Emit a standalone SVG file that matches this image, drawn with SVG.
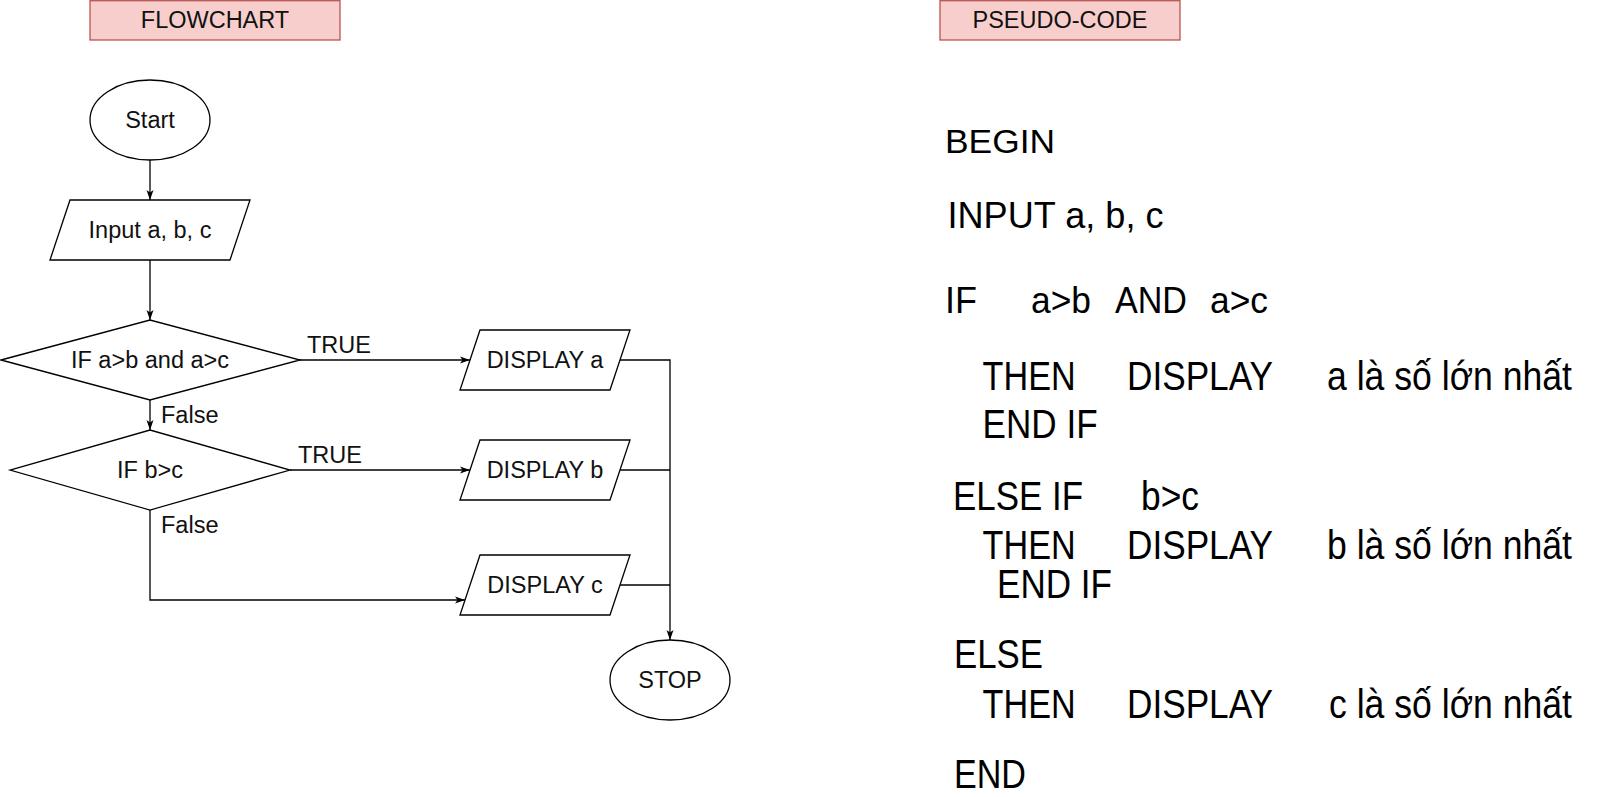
<svg xmlns="http://www.w3.org/2000/svg" width="1610" height="797" viewBox="0 0 1610 797">
<style>
.s{fill:#fff;stroke:#000;stroke-width:1.3}
.h{fill:#f8cecc;stroke:#b85450;stroke-width:1.3}
.t{font-family:"Liberation Sans",Arial,sans-serif;font-size:23.5px;fill:#111}
.c{text-anchor:middle}
.p{font-family:"Liberation Sans",Arial,sans-serif;fill:#000}
.p40{font-size:40px}
.e{fill:none;stroke:#000;stroke-width:1.3}
</style>
<defs>
<marker id="ar" markerUnits="userSpaceOnUse" markerWidth="10" markerHeight="8" refX="10" refY="4" orient="auto">
<path d="M0,0.5 L10,4 L0,7.5 L2.5,4 Z" fill="#000"/>
</marker>
</defs>
<rect width="1610" height="797" fill="#fff"/>

<g id="hdr-flowchart">
<rect class="h" x="90" y="0.7" width="250" height="39.3"/>
<text class="t c" x="215" y="28.4">FLOWCHART</text>
</g>
<g id="hdr-pseudo">
<rect class="h" x="940" y="0.7" width="240" height="39.3"/>
<text class="t c" x="1060" y="28.4">PSEUDO-CODE</text>
</g>

<g id="connectors">
<path class="e" d="M150,160 V200" marker-end="url(#ar)"/>
<path class="e" d="M150,260 V320" marker-end="url(#ar)"/>
<path class="e" d="M150,400 V430" marker-end="url(#ar)"/>
<path class="e" d="M300,360 H470" marker-end="url(#ar)"/>
<path class="e" d="M290,470 H470" marker-end="url(#ar)"/>
<path class="e" d="M150,510 V600 H465" marker-end="url(#ar)"/>
<path class="e" d="M620,360 H670 V640" marker-end="url(#ar)"/>
<path class="e" d="M620,470 H670"/>
<path class="e" d="M620,585 H670"/>
<text class="t" x="307" y="353">TRUE</text>
<text class="t" x="298" y="463">TRUE</text>
<text class="t" x="161" y="423">False</text>
<text class="t" x="161" y="533">False</text>
</g>

<g id="start">
<ellipse class="s" cx="150" cy="120" rx="60" ry="40"/>
<text class="t c" x="150" y="128.4">Start</text>
</g>
<g id="input">
<polygon class="s" points="70,200 250,200 230,260 50,260"/>
<text class="t c" x="150" y="238.4">Input a, b, c</text>
</g>
<g id="if1">
<polygon class="s" points="1,360 150,320 300,360 150,400"/>
<text class="t c" x="150" y="368.4">IF a&gt;b and a&gt;c</text>
</g>
<g id="if2">
<polygon class="s" points="10,470 150,430 290,470 150,510"/>
<text class="t c" x="150" y="478.4">IF b&gt;c</text>
</g>
<g id="display-a">
<polygon class="s" points="480,330 630,330 610,390 460,390"/>
<text class="t c" x="545" y="368.4">DISPLAY a</text>
</g>
<g id="display-b">
<polygon class="s" points="480,440 630,440 610,500 460,500"/>
<text class="t c" x="545" y="478.4">DISPLAY b</text>
</g>
<g id="display-c">
<polygon class="s" points="480,555 630,555 610,615 460,615"/>
<text class="t c" x="545" y="593.4">DISPLAY c</text>
</g>
<g id="stop">
<ellipse class="s" cx="670" cy="680" rx="60" ry="40"/>
<text class="t c" x="670" y="688.4">STOP</text>
</g>

<g id="pseudo-code">
<text class="p" x="945" y="153" font-size="33" textLength="110" lengthAdjust="spacingAndGlyphs">BEGIN</text>
<text class="p" x="947.5" y="228" font-size="37" textLength="216" lengthAdjust="spacingAndGlyphs">INPUT a, b, c</text>
<text class="p" x="945" y="313" font-size="36">IF</text>
<text class="p" x="1031" y="313" font-size="36" textLength="60" lengthAdjust="spacingAndGlyphs">a&gt;b</text>
<text class="p" x="1115" y="313" font-size="36" textLength="72" lengthAdjust="spacingAndGlyphs">AND</text>
<text class="p" x="1210" y="313" font-size="36" textLength="58" lengthAdjust="spacingAndGlyphs">a&gt;c</text>

<text class="p p40" x="982.6" y="390" textLength="93" lengthAdjust="spacingAndGlyphs">THEN</text>
<text class="p p40" x="1127" y="390" textLength="146" lengthAdjust="spacingAndGlyphs">DISPLAY</text>
<text class="p p40" x="1327" y="390" textLength="245" lengthAdjust="spacingAndGlyphs">a là số lớn nhất</text>
<text class="p p40" x="982.6" y="438" textLength="115" lengthAdjust="spacingAndGlyphs">END IF</text>

<text class="p p40" x="953" y="510" textLength="130" lengthAdjust="spacingAndGlyphs">ELSE IF</text>
<text class="p p40" x="1141" y="510" textLength="58" lengthAdjust="spacingAndGlyphs">b&gt;c</text>
<text class="p p40" x="982.6" y="559" textLength="93" lengthAdjust="spacingAndGlyphs">THEN</text>
<text class="p p40" x="1127" y="559" textLength="146" lengthAdjust="spacingAndGlyphs">DISPLAY</text>
<text class="p p40" x="1327" y="559" textLength="245" lengthAdjust="spacingAndGlyphs">b là số lớn nhất</text>
<text class="p p40" x="997" y="598" textLength="115" lengthAdjust="spacingAndGlyphs">END IF</text>

<text class="p p40" x="954" y="668" textLength="89" lengthAdjust="spacingAndGlyphs">ELSE</text>
<text class="p p40" x="982.6" y="718" textLength="93" lengthAdjust="spacingAndGlyphs">THEN</text>
<text class="p p40" x="1127" y="718" textLength="146" lengthAdjust="spacingAndGlyphs">DISPLAY</text>
<text class="p p40" x="1329" y="718" textLength="243" lengthAdjust="spacingAndGlyphs">c là số lớn nhất</text>
<text class="p p40" x="954" y="788" textLength="72" lengthAdjust="spacingAndGlyphs">END</text>
</g>
</svg>
